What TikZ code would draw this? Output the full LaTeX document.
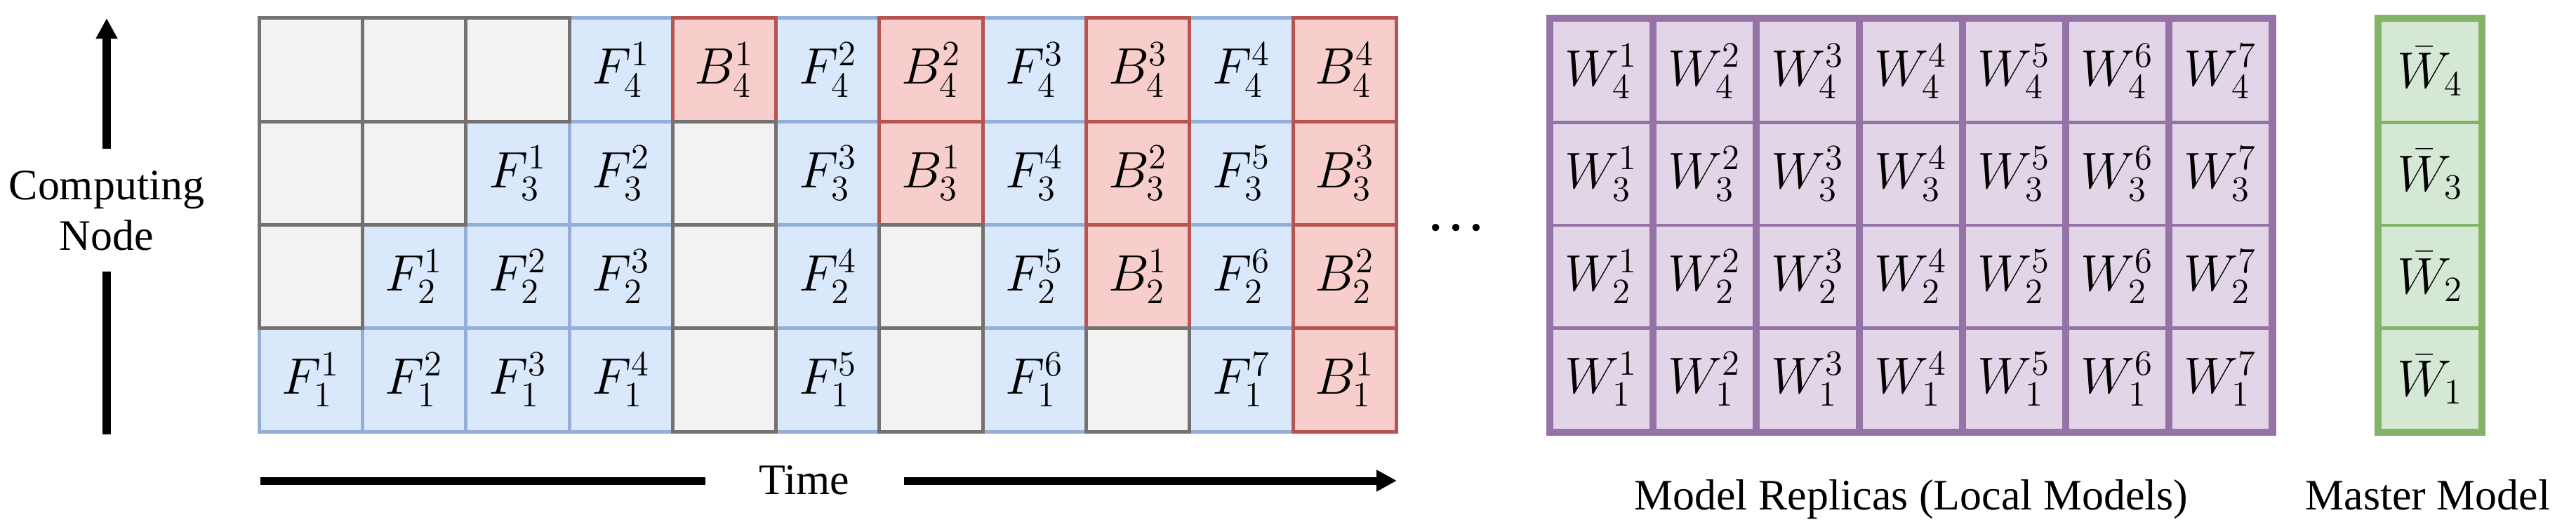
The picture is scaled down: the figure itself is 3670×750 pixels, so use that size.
\documentclass[tikz,border=0pt]{standalone}
\usepackage{fontspec}
\setmainfont{Liberation Serif}
\usepackage{xcolor}
\usetikzlibrary{arrows.meta}
\definecolor{idlefill}{HTML}{F2F2F2}
\definecolor{idleline}{HTML}{767171}
\definecolor{fwdfill}{HTML}{DAE8FC}
\definecolor{fwdline}{HTML}{93AFD6}
\definecolor{bwdfill}{HTML}{F8CECC}
\definecolor{bwdline}{HTML}{B85450}
\definecolor{replicafill}{HTML}{E1D5E7}
\definecolor{replicaline}{HTML}{9673A6}
\definecolor{masterfill}{HTML}{D5E8D4}
\definecolor{masterline}{HTML}{82B366}

\tikzset{
    cellbox/.style = {draw, rectangle, line width = 0.05cm, minimum width = 1.473cm, minimum height = 1.473cm, inner sep = 0pt, font = \fontsize{20.74}{24}\selectfont},
    fwdcell/.style = {cellbox, fill = fwdfill, draw = fwdline},
    bwdcell/.style = {cellbox, fill = bwdfill, draw = bwdline},
    idlecell/.style = {cellbox, fill = idlefill, draw = idleline},
    wcell/.style = {rectangle, minimum width = 1.37cm, minimum height = 1.4125cm, inner sep = 0pt, font = \fontsize{20.74}{24}\selectfont},
    labeltext/.style = {inner sep = 0pt, font = \fontsize{17.6}{20.5}\selectfont},
    thickarrow/.style = {line width = 0.11cm, -{Triangle[length = 0.29cm, width = 0.29cm]}}
}

\begin{document}
\begin{tikzpicture}[x = 0.01cm, y = 0.01cm]
        \useasboundingbox (0, 0) rectangle (3670, 750);
        % Forward cells
        \foreach \c/\r/\s in {1/1/1, 2/1/2, 3/1/3, 4/1/4, 6/1/5, 8/1/6, 10/1/7, 2/2/1, 3/2/2, 4/2/3, 6/2/4, 8/2/5, 10/2/6, 3/3/1, 4/3/2, 6/3/3, 8/3/4, 10/3/5, 4/4/1, 6/4/2, 8/4/3, 10/4/4}
            \node [fwdcell] (cell-\c-\r) at ({369.2 + 147.3*(\c - 0.5)}, {135 + 147.3*(\r - 0.5)}) {$F_{\r}^{\s}$};
        % Backward cells
        \foreach \c/\r/\s in {11/1/1, 9/2/1, 11/2/2, 7/3/1, 9/3/2, 11/3/3, 5/4/1, 7/4/2, 9/4/3, 11/4/4}
            \node [bwdcell] (cell-\c-\r) at ({369.2 + 147.3*(\c - 0.5)}, {135 + 147.3*(\r - 0.5)}) {$B_{\r}^{\s}$};
        % Idle cells
        \foreach \c/\r in {5/1, 7/1, 9/1, 1/2, 5/2, 7/2, 1/3, 2/3, 5/3, 1/4, 2/4, 3/4}
            \node [idlecell] (cell-\c-\r) at ({369.2 + 147.3*(\c - 0.5)}, {135 + 147.3*(\r - 0.5)}) {};

        % Axes
        \node [labeltext, align = center] (nodelabel) at (152, 449.5) {Computing\\Node};
        \coordinate (up-a) at (152, 131);
        \coordinate (up-b) at (152, 363);
        \coordinate (up-c) at (152, 538);
        \coordinate (up-d) at (152, 724);
        \draw [line width = 0.11cm] (up-a) -- (up-b);
        \draw [thickarrow] (up-c) -- (up-d);
        \node [labeltext, anchor = base] (timelabel) at (1146, 46) {Time};
        \coordinate (time-a) at (371, 65);
        \coordinate (time-b) at (1005, 65);
        \coordinate (time-c) at (1288, 65);
        \coordinate (time-d) at (1990, 65);
        \draw [line width = 0.11cm] (time-a) -- (time-b);
        \draw [thickarrow] (time-c) -- (time-d);
        \node [inner sep = 0pt, anchor = base, font = \fontsize{24.5}{28}\selectfont] (dots) at (2075, 422) {…};

        % Model replicas
        \node [fill = replicaline, minimum width = 10.4cm, minimum height = 6cm, inner sep = 0pt] (replicas) at (2723, 429) {};
        \foreach \c in {1, ..., 7}
            \foreach \r in {1, ..., 4}
                \node [wcell, fill = replicafill] (w-\c-\r) at ({2281.5 + 147*(\c - 1)}, {209.6 + 146.25*(\r - 1)}) {$W_{\r}^{\c}$};
        \node [labeltext, anchor = base] (replicalabel) at (replicas.south |- 0, 24) {Model Replicas (Local Models)};

        % Master model
        \node [fill = masterline, minimum width = 1.58cm, minimum height = 6cm, inner sep = 0pt] (master) at (3462, 429) {};
        \foreach \r in {1, ..., 4}
            \node [wcell, fill = masterfill, minimum width = 1.38cm] (m-\r) at (3462, {209.6 + 146.25*(\r - 1)}) {$\bar{W}_{\r}$};
        \node [labeltext, anchor = base] (masterlabel) at (3459, 24) {Master Model};
\end{tikzpicture}
\end{document}
